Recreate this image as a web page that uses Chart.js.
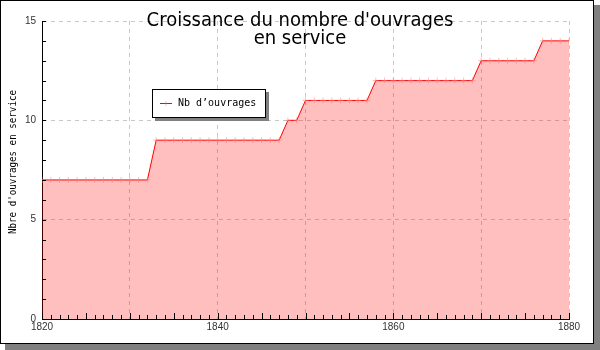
<!DOCTYPE html>
<html><head><meta charset="utf-8">
<script src="https://cdn.jsdelivr.net/npm/chart.js@4.4.1/dist/chart.umd.min.js"></script>
<style>html,body{margin:0;padding:0;background:#fff;}canvas{display:block;}</style>
</head><body>
<canvas id="c" width="600" height="350"></canvas>
<script>
const titleLines = ["Croissance du nombre d'ouvrages", "en service"];
const yAxisTitle = "Nbre d'ouvrages en service";
const seriesLabel = "Nb d\u2019ouvrages";
const years = [1820,1821,1822,1823,1824,1825,1826,1827,1828,1829,1830,1831,1832,1833,1834,1835,1836,1837,1838,1839,1840,1841,1842,1843,1844,1845,1846,1847,1848,1849,1850,1851,1852,1853,1854,1855,1856,1857,1858,1859,1860,1861,1862,1863,1864,1865,1866,1867,1868,1869,1870,1871,1872,1873,1874,1875,1876,1877,1878,1879,1880];
const counts = [7,7,7,7,7,7,7,7,7,7,7,7,7,9,9,9,9,9,9,9,9,9,9,9,9,9,9,9,10,10,11,11,11,11,11,11,11,11,12,12,12,12,12,12,12,12,12,12,12,12,13,13,13,13,13,13,13,14,14,14,14];
const xLabelYears = [1820,1840,1860,1880];
const yLabelValues = [0,5,10,15];

const points = years.map((y,i)=>({x:y,y:counts[i]}));
const tickFont = {family:'"Liberation Sans", Arial, sans-serif', size:10};

const decor = {
  id:'decor',
  beforeDraw(chart){
    const ctx = chart.ctx;
    ctx.save();
    ctx.fillStyle = '#808080';
    ctx.fillRect(5,5,595,345);
    ctx.fillStyle = '#ffffff';
    ctx.fillRect(0,0,594,344);
    ctx.strokeStyle = '#000';
    ctx.lineWidth = 1;
    ctx.strokeRect(0.5,0.5,593,343);
    ctx.restore();
  },
  afterDraw(chart){
    const ctx = chart.ctx;
    const xs = chart.scales.x, ys = chart.scales.y;
    const area = chart.chartArea;
    ctx.save();
    ctx.strokeStyle = '#000';
    ctx.lineWidth = 1;
    ctx.beginPath();
    for (let v = xs.min; v <= xs.max; v++) {
      const px = Math.round(xs.getPixelForValue(v)) + 0.5;
      const len = (v % 5 === 0) ? 6 : 4;
      ctx.moveTo(px, area.bottom);
      ctx.lineTo(px, area.bottom - len);
    }
    for (let v = ys.min; v <= ys.max; v++) {
      const py = Math.round(ys.getPixelForValue(v)) + 0.5;
      ctx.moveTo(area.left, py);
      ctx.lineTo(area.left + 4, py);
    }
    ctx.stroke();
    ctx.fillStyle = '#000';
    ctx.textAlign = 'center';
    ctx.textBaseline = 'alphabetic';
    ctx.font = '20px "DejaVu Sans Condensed", "DejaVu Sans", sans-serif';
    ctx.fillText(titleLines[0], 300, 26);
    ctx.fillText(titleLines[1], 300, 44);
    ctx.save();
    ctx.translate(13, 162);
    ctx.rotate(-Math.PI/2);
    ctx.scale(0.92, 1.12);
    ctx.font = '10px "DejaVu Sans Mono", monospace';
    ctx.textAlign = 'center';
    ctx.textBaseline = 'middle';
    ctx.fillText(yAxisTitle, 0, 0);
    ctx.restore();
    const lx = 152, ly = 89, lw = 114, lh = 29;
    ctx.fillStyle = '#808080';
    ctx.fillRect(lx+3, ly+3, lw, lh);
    ctx.fillStyle = '#fff';
    ctx.fillRect(lx, ly, lw, lh);
    ctx.strokeStyle = '#000';
    ctx.strokeRect(lx+0.5, ly+0.5, lw-1, lh-1);
    const ds = chart.data.datasets[0];
    ctx.strokeStyle = ds.borderColor;
    ctx.beginPath();
    ctx.moveTo(160, 103.5); ctx.lineTo(172, 103.5);
    ctx.stroke();
    ctx.strokeStyle = ds.pointBorderColor;
    ctx.beginPath();
    ctx.moveTo(166, 101); ctx.lineTo(166, 106);
    ctx.stroke();
    ctx.fillStyle = '#000';
    ctx.textAlign = 'left';
    ctx.textBaseline = 'middle';
    ctx.font = '10px "DejaVu Sans Mono", monospace';
    ctx.fillText(ds.label, 178, 103);
    ctx.restore();
  }
};

new Chart(document.getElementById('c'), {
  type:'line',
  data:{datasets:[{
    label: seriesLabel,
    data: points,
    borderColor:'#ff0000',
    borderWidth:1,
    backgroundColor:'rgba(255,0,0,0.25)',
    fill:'origin',
    tension:0,
    pointStyle:'cross',
    pointRadius:3,
    pointBorderWidth:1,
    pointBorderColor:'rgba(255,120,120,0.5)',
    pointBackgroundColor:'rgba(255,120,120,0.5)'
  }]},
  options:{
    responsive:false,
    devicePixelRatio:1,
    animation:false,
    layout:{padding:{left:0,right:31,top:21,bottom:0}},
    plugins:{legend:{display:false},title:{display:false},tooltip:{enabled:false}},
    scales:{
      x:{
        type:'linear', min:1820, max:1880,
        afterFit(s){ s.height = 31; },
        ticks:{stepSize:10, autoSkip:false, maxRotation:0, padding:2, color:'#333', font:tickFont,
          callback:(v)=> xLabelYears.includes(v) ? String(v) : ''},
        grid:{color:'#c8c8c8', drawTicks:false, lineWidth:1},
        border:{display:true, color:'#000', width:1, dash:[4,4]}
      },
      y:{
        min:0, max:15,
        afterFit(s){ s.width = 42; },
        ticks:{stepSize:5, padding:6, color:'#333', font:tickFont,
          callback:(v)=> yLabelValues.includes(v) ? String(v) : ''},
        grid:{color:'#c8c8c8', drawTicks:false, lineWidth:1},
        border:{display:true, color:'#000', width:1, dash:[4,4]}
      }
    }
  },
  plugins:[decor]
});
</script>
</body></html>
